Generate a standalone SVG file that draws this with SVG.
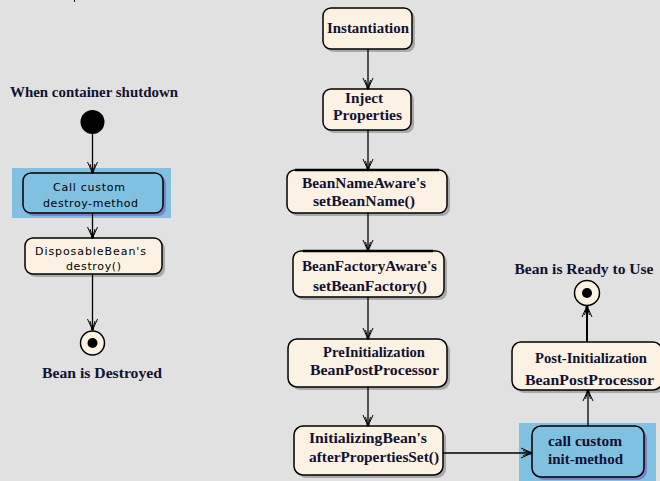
<svg xmlns="http://www.w3.org/2000/svg" width="660" height="481" viewBox="0 0 660 481">
<defs>
<marker id="arr" viewBox="-12 -6 14 12" refX="0" refY="0" markerWidth="14" markerHeight="12" markerUnits="userSpaceOnUse" orient="auto">
<path d="M-11,-5 L0,0 L-11,5 M-9,-2.5 L0,0 L-9,2.5" fill="none" stroke="#000" stroke-width="1"/>
<circle cx="-1" cy="0" r="1.6" fill="#000"/>
</marker>
</defs>
<style>
.bg{fill:#e1e1e1}
.node{fill:#fcf2e3;stroke:#000;stroke-width:1.5}
.bnode{fill:#80c0e0;stroke:#000;stroke-width:1.5}
.sh{fill:#a9a9a9}
.bsh{fill:#8080c8}
.hl{fill:#80c0e0}
.t{font-family:"Liberation Serif","Times New Roman",serif;font-weight:bold;font-size:15px;fill:#111133;text-anchor:middle}
.s{font-family:"DejaVu Sans","Liberation Sans",sans-serif;font-size:11px;fill:#000;text-anchor:middle}
.c{fill:none;stroke:#000;stroke-width:1.3;marker-end:url(#arr)}
</style>
<rect class="bg" x="0" y="0" width="660" height="481"/>
<line x1="74.5" y1="0" x2="74.5" y2="2" stroke="#000"/>

<text class="t" x="94" y="97" textLength="168" lengthAdjust="spacingAndGlyphs">When container shutdown</text>
<text class="t" x="102" y="378" textLength="120" lengthAdjust="spacingAndGlyphs">Bean is Destroyed</text>
<text class="t" x="584" y="274" textLength="139" lengthAdjust="spacingAndGlyphs">Bean is Ready to Use</text>

<g id="start">
<circle cx="92.5" cy="122" r="12" fill="#000"/>
</g>

<g id="call-destroy">
<rect class="hl" x="12" y="168" width="159" height="50"/>
<rect class="bsh" x="26" y="176" width="140" height="40" rx="8"/>
<rect class="bnode" x="23" y="173" width="140" height="40" rx="8"/>
<text class="s" x="89" y="191" textLength="72" lengthAdjust="spacing">Call custom</text>
<text class="s" x="90.5" y="207" textLength="95" lengthAdjust="spacing">destroy-method</text>
</g>

<g id="disposable">
<rect class="sh" x="28" y="241" width="137" height="36" rx="8"/>
<rect class="node" x="25" y="238" width="137" height="36" rx="8"/>
<text class="s" x="90.5" y="255" textLength="111" lengthAdjust="spacing">DisposableBean's</text>
<text class="s" x="93.5" y="270" textLength="55" lengthAdjust="spacing">destroy()</text>
</g>

<g id="end-destroyed">
<circle cx="92.5" cy="343" r="12" fill="#fcf2e3" stroke="#000" stroke-width="1.5"/>
<circle cx="92.5" cy="343" r="5" fill="#000"/>
</g>

<g id="instantiation">
<rect class="sh" x="326" y="11" width="89" height="41" rx="8"/>
<rect class="node" x="323" y="8" width="89" height="41" rx="8"/>
<text class="t" x="368" y="33" textLength="82" lengthAdjust="spacingAndGlyphs">Instantiation</text>
</g>

<g id="inject">
<rect class="sh" x="326" y="92" width="88" height="41" rx="8"/>
<rect class="node" x="323" y="89" width="88" height="41" rx="8"/>
<text class="t" x="364" y="103" textLength="38" lengthAdjust="spacingAndGlyphs">Inject</text>
<text class="t" x="367.5" y="120" textLength="69" lengthAdjust="spacingAndGlyphs">Properties</text>
</g>

<g id="beannameaware">
<rect class="sh" x="290" y="173" width="160" height="43" rx="8"/>
<rect class="node" x="287" y="170" width="160" height="43" rx="8"/>
<line x1="295" y1="170" x2="439" y2="170" stroke="#000" stroke-width="2.5"/>
<text class="t" x="364" y="188" textLength="124" lengthAdjust="spacingAndGlyphs">BeanNameAware's</text>
<text class="t" x="364" y="206" textLength="102" lengthAdjust="spacingAndGlyphs">setBeanName()</text>
</g>

<g id="beanfactoryaware">
<rect class="sh" x="296" y="254" width="151" height="46" rx="8"/>
<rect class="node" x="293" y="251" width="151" height="46" rx="8"/>
<line x1="303" y1="251" x2="433" y2="251" stroke="#000" stroke-width="2.5"/>
<text class="t" x="369.5" y="271" textLength="135" lengthAdjust="spacingAndGlyphs">BeanFactoryAware's</text>
<text class="t" x="370" y="291" textLength="114" lengthAdjust="spacingAndGlyphs">setBeanFactory()</text>
</g>

<g id="preinit">
<rect class="sh" x="291" y="342" width="159" height="48" rx="9"/>
<rect class="node" x="288" y="339" width="159" height="48" rx="9"/>
<text class="t" x="374" y="357" textLength="102" lengthAdjust="spacingAndGlyphs">PreInitialization</text>
<text class="t" x="374.5" y="375" textLength="129" lengthAdjust="spacingAndGlyphs">BeanPostProcessor</text>
</g>

<g id="initializingbean">
<rect class="sh" x="297" y="429" width="149" height="49" rx="9"/>
<rect class="node" x="294" y="426" width="149" height="49" rx="9"/>
<text class="t" x="368" y="443" textLength="118" lengthAdjust="spacingAndGlyphs">InitializingBean's</text>
<text class="t" x="374" y="462" textLength="130" lengthAdjust="spacingAndGlyphs">afterPropertiesSet()</text>
</g>

<g id="call-init">
<rect class="hl" x="519" y="423" width="137" height="58"/>
<rect class="bsh" x="535" y="429" width="112" height="51" rx="9"/>
<rect class="bnode" x="532" y="426" width="112" height="51" rx="9"/>
<text class="t" x="548" y="446" style="text-anchor:start" textLength="74" lengthAdjust="spacingAndGlyphs">call custom</text>
<text class="t" x="548" y="464" style="text-anchor:start" textLength="75" lengthAdjust="spacingAndGlyphs">init-method</text>
</g>

<g id="postinit">
<rect class="sh" x="515" y="345" width="150" height="48" rx="9"/>
<rect class="node" x="512" y="342" width="150" height="48" rx="9"/>
<text class="t" x="591" y="363" textLength="112" lengthAdjust="spacingAndGlyphs">Post-Initialization</text>
<text class="t" x="589.5" y="385" textLength="129" lengthAdjust="spacingAndGlyphs">BeanPostProcessor</text>
</g>

<g id="end-ready">
<circle cx="587" cy="293" r="12.5" fill="#fcf2e3" stroke="#000" stroke-width="1.5"/>
<circle cx="587" cy="293" r="5" fill="#000"/>
</g>

<g id="connectors">
<path class="c" d="M92.5,134 V173"/>
<path class="c" d="M92.5,213 V238"/>
<path class="c" d="M92.5,274 V330"/>
<path class="c" d="M368,49 V89"/>
<path class="c" d="M368,130 V170"/>
<path class="c" d="M368,213 V251"/>
<path class="c" d="M368,297 V339"/>
<path class="c" d="M368,387 V426"/>
<path class="c" d="M443,453 H532"/>
<path class="c" d="M588,426 V390"/>
<path class="c" d="M587,342 V306" style="stroke-width:2"/>
</g>
</svg>
